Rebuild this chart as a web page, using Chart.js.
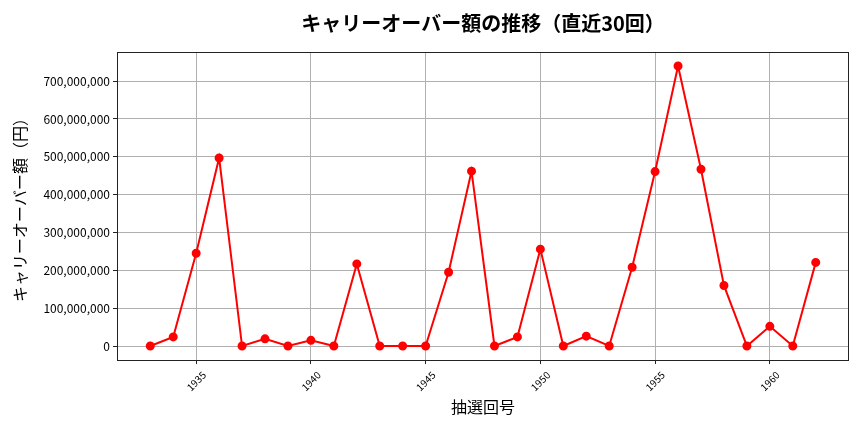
<!DOCTYPE html>
<html>
<head>
<meta charset="utf-8">
<script src="https://cdn.jsdelivr.net/npm/chart.js@4"></script>
<style>
  html, body { margin: 0; padding: 0; background: #fff; }
  #wrap { width: 864px; height: 432px; }
</style>
</head>
<body>
<div id="wrap"><canvas id="chart" width="864" height="432"></canvas></div>
<script>
        // データ
        const drawNumbers = [1933, 1934, 1935, 1936, 1937, 1938, 1939, 1940, 1941, 1942,
                             1943, 1944, 1945, 1946, 1947, 1948, 1949, 1950, 1951, 1952,
                             1953, 1954, 1955, 1956, 1957, 1958, 1959, 1960, 1961, 1962];
        const carryOver = [0, 24000000, 245000000, 497000000, 0, 19000000, 0, 15000000, 0, 217000000,
                           0, 0, 0, 195000000, 462000000, 0, 24000000, 256000000, 0, 26000000,
                           0, 208000000, 461000000, 740000000, 467000000, 160000000, 0, 52000000, 0, 221000000];
        const xTicks = [1935, 1940, 1945, 1950, 1955, 1960];
        const yTicks = [0, 100000000, 200000000, 300000000, 400000000, 500000000, 600000000, 700000000];

        const FONT = "'Noto Sans CJK JP', 'Noto Sans', sans-serif";
        const TITLE = 'キャリーオーバー額の推移（直近30回）';

        // 枠線とタイトル（タイトルはプロット領域の中央に置く）
        const frame = {
            id: 'frame',
            afterDraw(chart) {
                const a = chart.chartArea;
                const ctx = chart.ctx;
                ctx.save();
                ctx.strokeStyle = '#222';
                ctx.lineWidth = 1;
                ctx.strokeRect(a.left + 0.5, a.top + 0.5, a.right - a.left - 1, a.bottom - a.top);
                ctx.fillStyle = '#000';
                ctx.font = 'bold 20px ' + FONT;
                ctx.textAlign = 'center';
                ctx.textBaseline = 'middle';
                ctx.fillText(TITLE, (a.left + a.right) / 2, 23);
                ctx.restore();
            }
        };

        const points = drawNumbers.map((n, i) => ({ x: n, y: carryOver[i] }));

        new Chart(document.getElementById('chart').getContext('2d'), {
            type: 'line',
            data: {
                datasets: [{
                    data: points,
                    borderColor: '#ff0000',
                    backgroundColor: '#ff0000',
                    borderWidth: 2,
                    pointRadius: 3.5,
                    pointHoverRadius: 3.5,
                    tension: 0
                }]
            },
            options: {
                responsive: false,
                animation: false,
                layout: { padding: { left: 0, right: 15, top: 52, bottom: 0 } },
                plugins: {
                    legend: { display: false },
                    tooltip: { enabled: false },
                    title: { display: false }
                },
                scales: {
                    x: {
                        type: 'linear',
                        min: 1931.55,
                        max: 1963.45,
                        afterBuildTicks: axis => { axis.ticks = xTicks.map(v => ({ value: v })); },
                        afterFit: axis => { axis.height = 72; },
                        grid: { color: '#b0b0b0', tickColor: '#222', tickLength: 4 },
                        border: { display: false },
                        ticks: {
                            color: '#000',
                            minRotation: 45,
                            maxRotation: 45,
                            padding: 5,
                            labelOffset: 8,
                            font: { family: FONT, size: 10 },
                            callback: v => String(v)
                        },
                        title: {
                            display: true,
                            text: '抽選回号',
                            color: '#000',
                            font: { family: FONT, size: 16 },
                            padding: { top: 4, bottom: 15 }
                        }
                    },
                    y: {
                        min: -37000000,
                        max: 777000000,
                        afterBuildTicks: axis => { axis.ticks = yTicks.map(v => ({ value: v })); },
                        afterFit: axis => { axis.width = 117; },
                        grid: { color: '#b0b0b0', tickColor: '#222', tickLength: 4 },
                        border: { display: false },
                        ticks: {
                            color: '#000',
                            padding: 3,
                            font: { family: FONT, size: 12 },
                            callback: v => v.toLocaleString('en-US')
                        },
                        title: {
                            display: true,
                            text: 'キャリーオーバー額（円）',
                            color: '#000',
                            font: { family: FONT, size: 16 },
                            padding: { top: 10 }
                        }
                    }
                }
            },
            plugins: [frame]
        });
</script>
</body>
</html>
